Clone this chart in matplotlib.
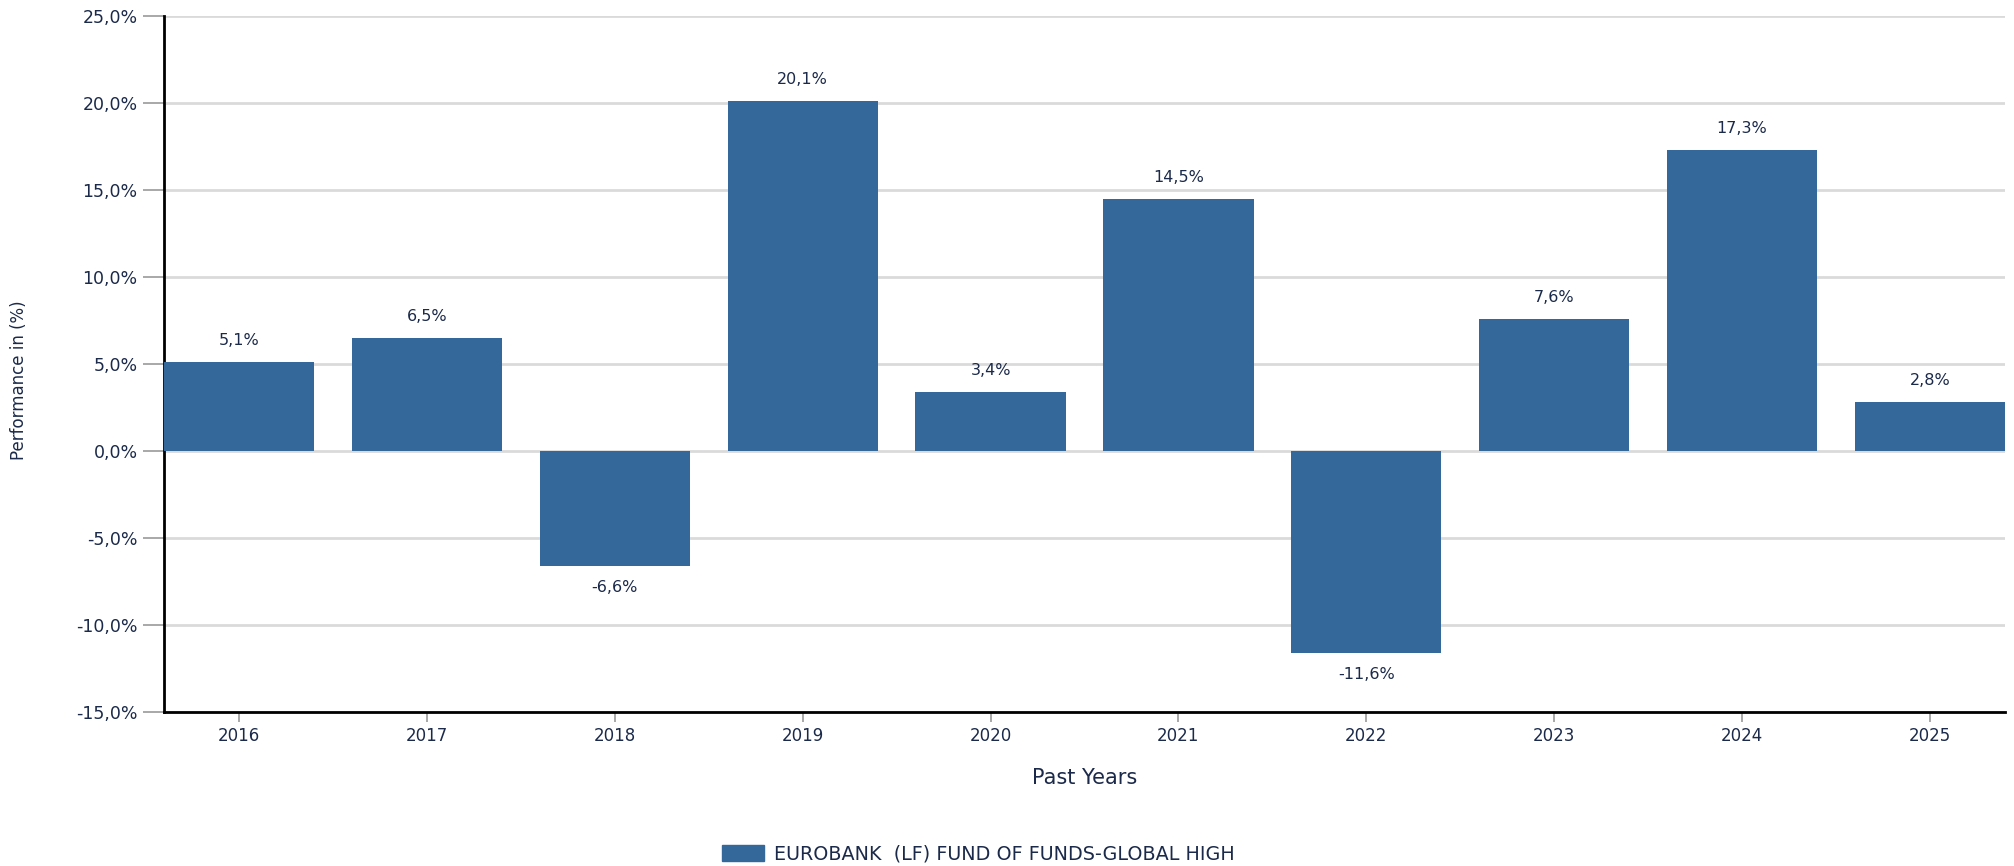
import matplotlib.pyplot as plt
from matplotlib.patches import Patch

years = ["2016", "2017", "2018", "2019", "2020", "2021", "2022", "2023", "2024", "2025"]
returns = [5.1, 6.5, -6.6, 20.1, 3.4, 14.5, -11.6, 7.6, 17.3, 2.8]
fund_name = "EUROBANK  (LF) FUND OF FUNDS-GLOBAL HIGH"
y_ticks = [-15, -10, -5, 0, 5, 10, 15, 20, 25]

bar_color = "#34679a"
text_color = "#1b2a4a"

plt.rcParams['font.family'] = ['DejaVu Sans']

fig = plt.figure(figsize=(20.15, 8.66), dpi=100)
ax = fig.add_axes([164 / 2015, 1 - 712 / 866, (2005 - 164) / 2015, (712 - 16) / 866])

x = range(len(years))
ax.bar(x, returns, width=0.8, color=bar_color, zorder=3)

# value labels, comma as decimal separator
for xi, v in zip(x, returns):
    label = f"{v:.1f}%".replace(".", ",")
    if v >= 0:
        ax.annotate(label, (xi, v), xytext=(0, 10), textcoords="offset points",
                    ha="center", va="bottom", fontsize=11.5, color=text_color)
    else:
        ax.annotate(label, (xi, v), xytext=(0, -10), textcoords="offset points",
                    ha="center", va="top", fontsize=11.5, color=text_color)

ax.set_xlim(-0.4, 9.4)
ax.set_ylim(-15, 25)
ax.set_yticks(y_ticks)
ax.set_yticklabels([f"{t:.1f}%".replace(".", ",") for t in y_ticks])
ax.set_xticks(list(x))
ax.set_xticklabels(years)

ax.grid(axis="y", color="#dadada", linewidth=2, zorder=0)
ax.set_axisbelow(True)

for s in ["top", "right"]:
    ax.spines[s].set_visible(False)
ax.spines["left"].set_color("black")
ax.spines["left"].set_linewidth(2)
ax.spines["bottom"].set_color("black")
ax.spines["bottom"].set_linewidth(2)

ax.tick_params(axis="y", length=15, width=1.2, color="#999999", labelsize=12.5,
               labelcolor=text_color, pad=4)
ax.tick_params(axis="x", length=7, width=1.2, color="#999999", labelsize=12,
               labelcolor=text_color, pad=4)

ax.set_ylabel("Performance in (%)", fontsize=12, color=text_color)
ax.yaxis.set_label_coords(-0.074, 0.477)
ax.set_xlabel("Past Years", fontsize=15, color=text_color)
ax.xaxis.set_label_coords(0.5, -0.081)

fig.legend(handles=[Patch(color=bar_color, label=fund_name)], loc="center",
           bbox_to_anchor=(978 / 2015, 1 - 854 / 866), frameon=False, fontsize=13.8,
           labelcolor=text_color, handlelength=2.2, handleheight=0.94,
           handletextpad=0.52)

fig.savefig("out.png", dpi=100)
